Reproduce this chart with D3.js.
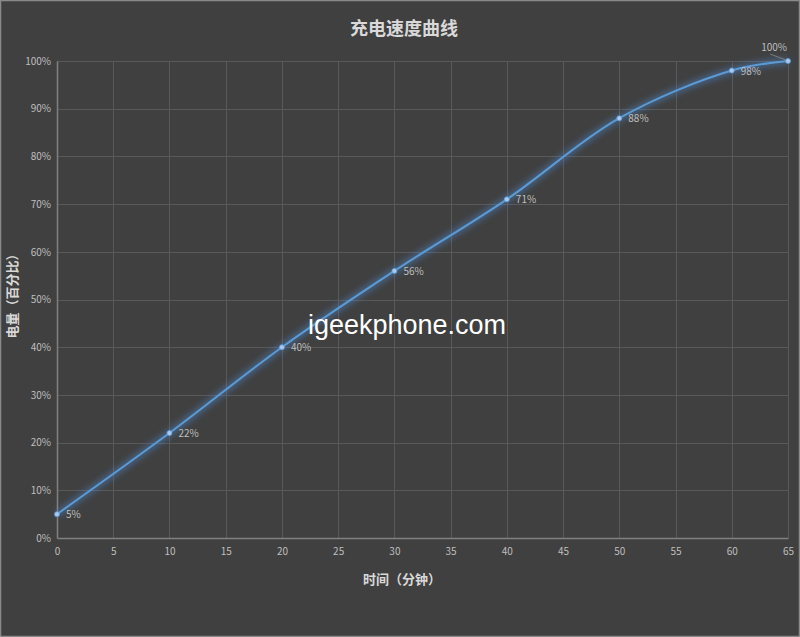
<!DOCTYPE html>
<html><head><meta charset="utf-8">
<script src="https://cdn.jsdelivr.net/npm/d3@7"></script>
<style>body{margin:0;background:#404040;}svg{display:block;}</style>
</head><body>
<svg id="c" width="800" height="637"></svg>
<script>
const minutes = [0, 10, 20, 30, 40, 50, 60, 65];
const percent = [5, 22, 40, 56, 71, 88, 98, 100];
const xTicks = [0,5,10,15,20,25,30,35,40,45,50,55,60,65];
const yTicks = [0,10,20,30,40,50,60,70,80,90,100];
const title = "充电速度曲线";
const xTitle = "时间（分钟）";
const yTitle = "电量（百分比）";
const watermark = "igeekphone.com";

const svg = d3.select("#c");
const W = 800, H = 637;
const m = {l:57, r:12, t:61, b:99};
const x = d3.scaleLinear().domain([0,65]).range([m.l, W-m.r]);
const y = d3.scaleLinear().domain([0,100]).range([H-m.b, m.t]);
const font = "'Microsoft YaHei','Noto Sans CJK SC','Noto Sans',sans-serif";

svg.append("rect").attr("x",0.5).attr("y",0.5).attr("width",W-1).attr("height",H-1)
  .attr("fill","#404040").attr("stroke","#8a8a8a").attr("stroke-width",1.5);

const defs = svg.append("defs");
const f = defs.append("filter").attr("id","glow").attr("x","-10%").attr("y","-10%").attr("width","120%").attr("height","120%");
f.append("feGaussianBlur").attr("stdDeviation",3);

// grid
svg.append("g").selectAll("line").data(yTicks.slice(1)).join("line")
  .attr("x1",m.l).attr("x2",W-m.r).attr("y1",d=>Math.round(y(d))+0.5).attr("y2",d=>Math.round(y(d))+0.5)
  .attr("stroke","#595959").attr("stroke-width",1);
svg.append("g").selectAll("line").data(xTicks.slice(1)).join("line")
  .attr("y1",m.t).attr("y2",H-m.b).attr("x1",d=>Math.round(x(d))+0.5).attr("x2",d=>Math.round(x(d))+0.5)
  .attr("stroke","#595959").attr("stroke-width",1);

// axes
const xa = svg.append("g").attr("transform",`translate(0,${H-m.b})`)
  .call(d3.axisBottom(x).tickValues(xTicks).tickSize(0).tickPadding(10));
xa.select(".domain").attr("stroke","#808080").attr("stroke-width",1.5);
xa.selectAll("text").attr("fill","#bfbfbf").style("font-family",font).style("font-size","10px");
const ya = svg.append("g").attr("transform",`translate(${m.l},0)`)
  .call(d3.axisLeft(y).tickValues(yTicks).tickSize(0).tickPadding(6).tickFormat(d=>d+"%"));
ya.select(".domain").attr("stroke","#808080").attr("stroke-width",1.5);
ya.selectAll("text").attr("fill","#bfbfbf").style("font-family",font).style("font-size","10px");

// line
const data = minutes.map((d,i)=>({x:d,y:percent[i]}));
const line = d3.line().x(d=>x(d.x)).y(d=>y(d.y)).curve(d3.curveCatmullRom.alpha(0.5));
svg.append("path").datum(data).attr("d",line).attr("fill","none")
  .attr("stroke","#4f8fdc").attr("stroke-width",6).attr("opacity",0.5).attr("filter","url(#glow)");
svg.append("path").datum(data).attr("d",line).attr("fill","none")
  .attr("stroke","#5b9bd5").attr("stroke-width",2);
svg.append("g").selectAll("circle").data(data).join("circle")
  .attr("cx",d=>x(d.x)).attr("cy",d=>y(d.y)).attr("r",2.5)
  .attr("fill","#a9c9ef").attr("stroke","#5b9bd5").attr("stroke-width",0.8);

// labels
const lab = svg.append("g").style("font-family",font).style("font-size","10px").attr("fill","#bfbfbf");
lab.selectAll("text").data(data.slice(0,-1)).join("text")
  .attr("x",d=>x(d.x)+9).attr("y",d=>y(d.y)+4).text(d=>d.y+"%");
const last = data[data.length-1];
lab.append("text").attr("x",x(last.x)-1).attr("y",y(last.y)-10).attr("text-anchor","end").text(last.y+"%");
svg.append("line").attr("x1",x(last.x)-18).attr("y1",y(last.y)-7).attr("x2",x(last.x)-2).attr("y2",y(last.y)-1)
  .attr("stroke","#8a8a8a").attr("stroke-width",0.8);

// titles
svg.append("text").attr("x",404).attr("y",35).attr("text-anchor","middle")
  .style("font-family",font).style("font-size","18px").style("font-weight","bold").attr("fill","#d9d9d9").text(title);
svg.append("text").attr("x",402).attr("y",584).attr("text-anchor","middle")
  .style("font-family",font).style("font-size","13px").style("font-weight","bold").attr("fill","#d9d9d9").text(xTitle);
svg.append("text").attr("transform","translate(17,293) rotate(-90)").attr("text-anchor","middle")
  .style("font-family",font).style("font-size","13px").style("font-weight","bold").attr("fill","#d9d9d9").text(yTitle);

// watermark
svg.append("text").attr("x",407).attr("y",334).attr("text-anchor","middle")
  .style("font-family","'Liberation Sans',Arial,sans-serif").style("font-size","27px").attr("fill","#ffffff").text(watermark);
</script>
</body></html>
